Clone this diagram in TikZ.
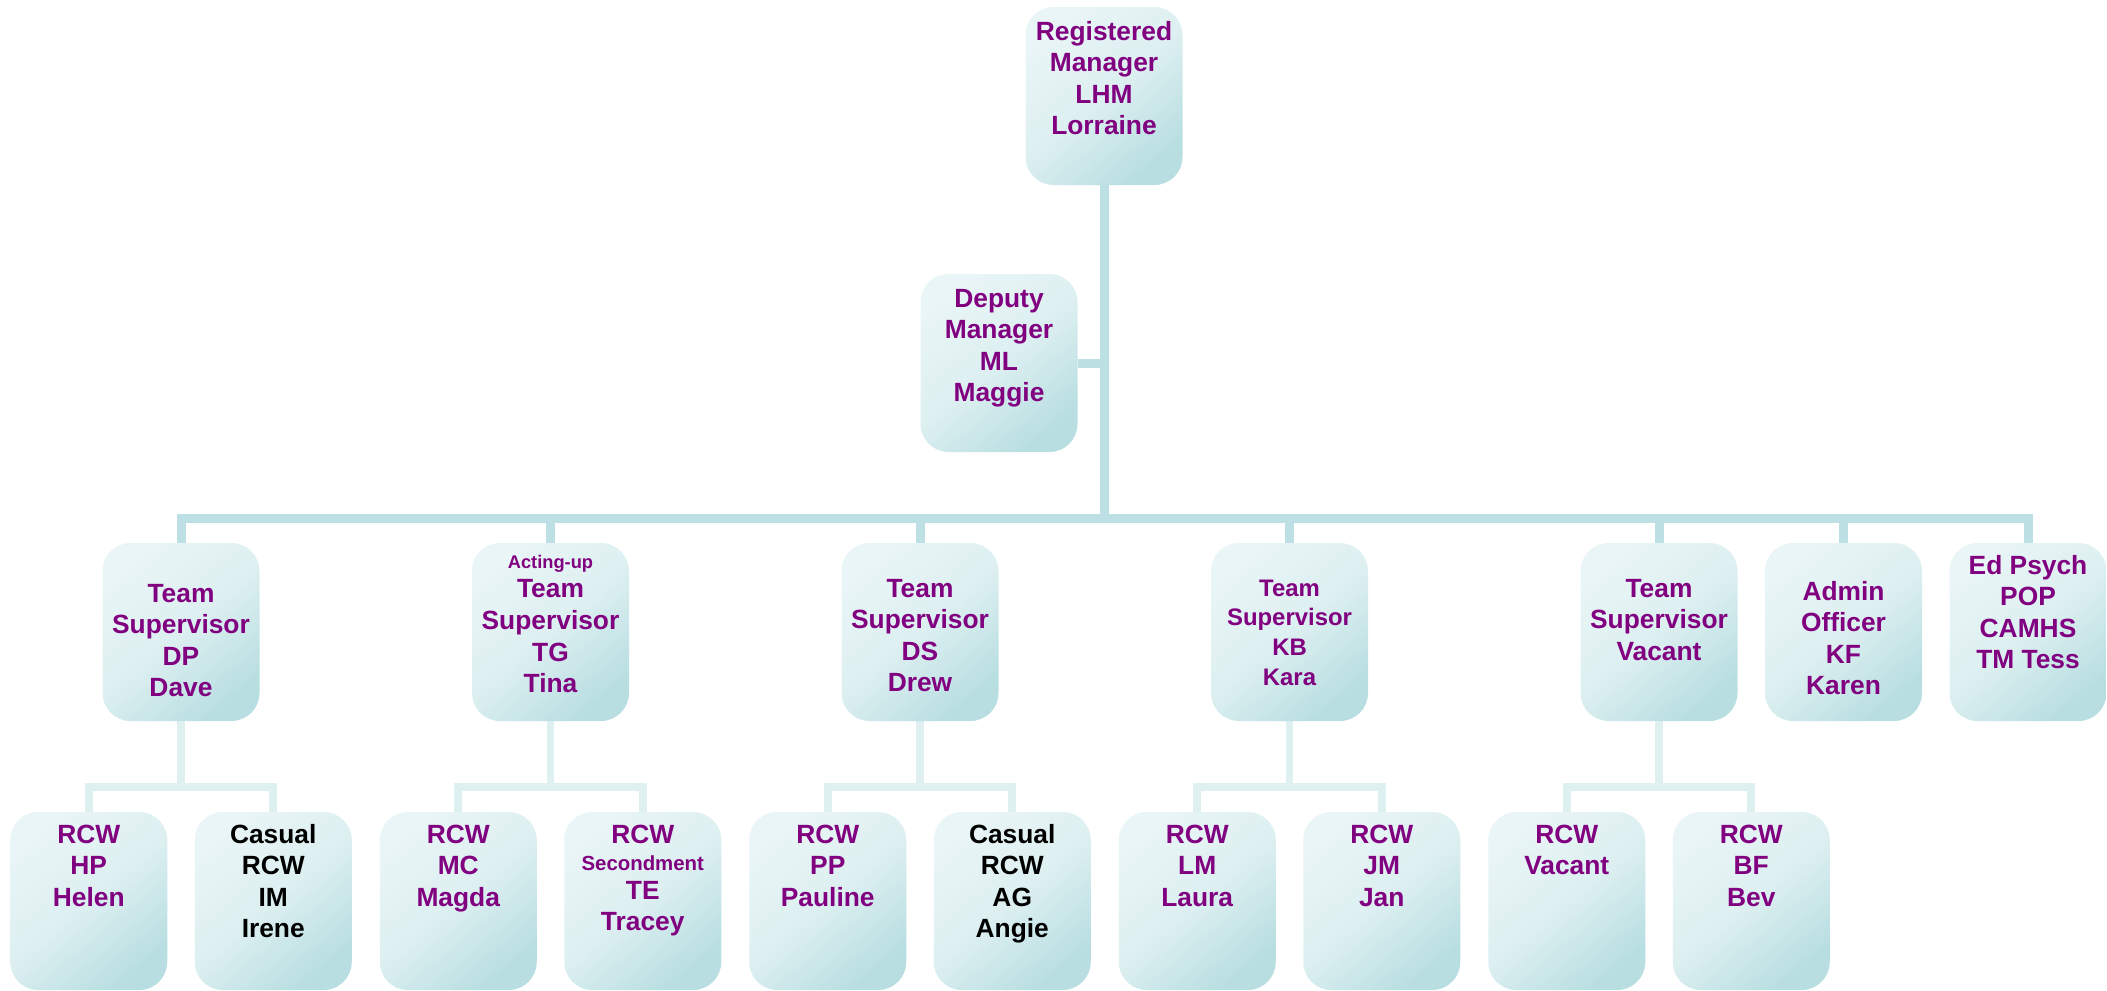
\documentclass[tikz,border=0pt]{standalone}
\usepackage{fontspec}
\setmainfont{Liberation Sans}
\usetikzlibrary{backgrounds}
\definecolor{chartpurple}{RGB}{128,0,128}
\definecolor{boxlight}{RGB}{233,245,246}
\definecolor{boxdark}{RGB}{184,222,225}
\definecolor{trunkblue}{RGB}{188,224,227}
\definecolor{twigblue}{RGB}{223,240,241}
\newcommand{\cardtext}[2]{\parbox[c][3.56cm][t]{3.14cm}{\centering\rule{0pt}{#1}#2}}
\newcommand{\smallline}[2]{{\fontsize{#1}{#1}\selectfont #2}}

\begin{document}
\begin{tikzpicture}[line join=miter,
    card/.style={rounded corners=0.56cm, minimum width=3.14cm, minimum height=3.56cm,
      inner sep=0pt, top color=boxlight, bottom color=boxdark,
      middle color=boxlight!75!boxdark, shading angle=40,
      text=chartpurple, font=\fontsize{15}{18}\selectfont\bfseries},
    casual/.style={card, text=black},
    trunk/.style={trunkblue, line width=0.18cm},
    twig/.style={twigblue, line width=0.154cm}]
  \def\rowb{-12.64} \def\rowc{-18.02}
  \useasboundingbox (0,0) rectangle (42.14,-19.8);
  % managers
  \node[card] (rm) at (22.08,-1.92) {\cardtext{0.66cm}{Registered\\Manager\\LHM\\Lorraine}};
  \node[card] (dm) at (19.98,-7.26) {\cardtext{0.66cm}{Deputy\\Manager\\ML\\Maggie}};
  % supervisors and others
  \node[card] (dp) at (3.62,\rowb) {\cardtext{1.18cm}{Team\\Supervisor\\DP\\Dave}};
  \node[card] (tg) at (11.01,\rowb) {\cardtext{0.50cm}{\smallline{10.4}{Acting-up}\\[-0.035cm]Team\\Supervisor\\TG\\Tina}};
  \node[card] (ds) at (18.40,\rowb) {\cardtext{1.08cm}{Team\\Supervisor\\DS\\Drew}};
  \node[card, font=\fontsize{13.6}{16.9}\selectfont\bfseries] (kb) at (25.79,\rowb) {\cardtext{1.06cm}{Team\\Supervisor\\KB\\Kara}};
  \node[card] (tsv) at (33.18,\rowb) {\cardtext{1.08cm}{Team\\Supervisor\\Vacant}};
  \node[card] (kf) at (36.87,\rowb) {\cardtext{1.14cm}{Admin\\Officer\\KF\\Karen}};
  \node[card] (ep) at (40.56,\rowb) {\cardtext{0.62cm}{Ed Psych\\POP\\CAMHS\\TM Tess}};
  % care workers
  \node[card] (hp) at (1.775,\rowc) {\cardtext{0.62cm}{RCW\\HP\\Helen}};
  \node[casual] (im) at (5.465,\rowc) {\cardtext{0.62cm}{Casual\\RCW\\IM\\Irene}};
  \node[card] (mc) at (9.165,\rowc) {\cardtext{0.62cm}{RCW\\MC\\Magda}};
  \node[card] (te) at (12.855,\rowc) {\cardtext{0.62cm}{RCW\\[-0.081cm]\smallline{11.6}{Secondment}\\[-0.049cm]TE\\[-0.015cm]Tracey}};
  \node[card] (pp) at (16.555,\rowc) {\cardtext{0.62cm}{RCW\\PP\\Pauline}};
  \node[casual] (ag) at (20.245,\rowc) {\cardtext{0.62cm}{Casual\\RCW\\AG\\Angie}};
  \node[card] (lm) at (23.945,\rowc) {\cardtext{0.62cm}{RCW\\LM\\Laura}};
  \node[card] (jm) at (27.635,\rowc) {\cardtext{0.62cm}{RCW\\JM\\Jan}};
  \node[card] (rv) at (31.335,\rowc) {\cardtext{0.62cm}{RCW\\Vacant}};
  \node[card] (bf) at (35.025,\rowc) {\cardtext{0.62cm}{RCW\\BF\\Bev}};
  \coordinate (bus) at (0,-10.36);
  \coordinate (sub) at (0,-15.74);
  \begin{scope}[on background layer]
    \draw[trunk] (rm.south) -- (rm.south |- bus);
    \draw[trunk] (dm.east) -- (dm.east -| rm.south);
    \draw[trunk] (dp.north) -- (dp.north |- bus) -- (ep.north |- bus) -- (ep.north);
    \draw[trunk] (tg.north) -- (tg.north |- bus);
    \draw[trunk] (ds.north) -- (ds.north |- bus);
    \draw[trunk] (kb.north) -- (kb.north |- bus);
    \draw[trunk] (tsv.north) -- (tsv.north |- bus);
    \draw[trunk] (kf.north) -- (kf.north |- bus);
    % teams
    \draw[twig] (dp.south) -- (dp.south |- sub);
    \draw[twig] (hp.north) -- (hp.north |- sub) -- (im.north |- sub) -- (im.north);
    \draw[twig] (tg.south) -- (tg.south |- sub);
    \draw[twig] (mc.north) -- (mc.north |- sub) -- (te.north |- sub) -- (te.north);
    \draw[twig] (ds.south) -- (ds.south |- sub);
    \draw[twig] (pp.north) -- (pp.north |- sub) -- (ag.north |- sub) -- (ag.north);
    \draw[twig] (kb.south) -- (kb.south |- sub);
    \draw[twig] (lm.north) -- (lm.north |- sub) -- (jm.north |- sub) -- (jm.north);
    \draw[twig] (tsv.south) -- (tsv.south |- sub);
    \draw[twig] (rv.north) -- (rv.north |- sub) -- (bf.north |- sub) -- (bf.north);
  \end{scope}
\end{tikzpicture}
\end{document}
